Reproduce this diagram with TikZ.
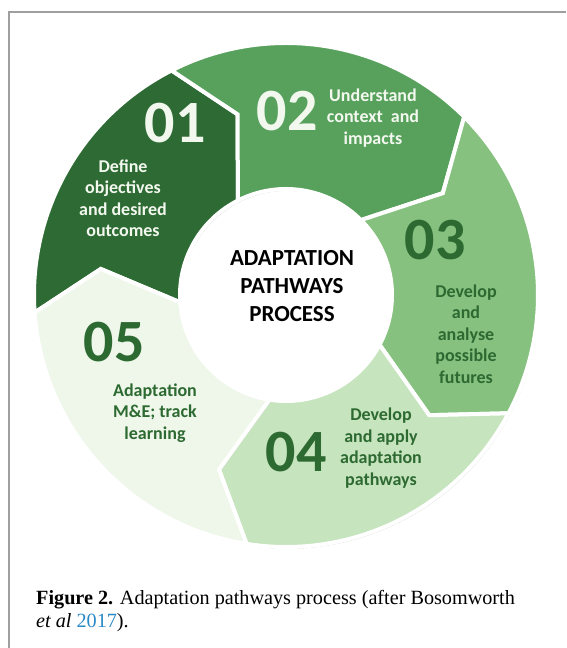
\documentclass[tikz,border=0pt]{standalone}
\usepackage{fontspec}
\setmainfont{Liberation Serif}
\newfontfamily\calfont{Carlito}
\usetikzlibrary{shadows}
\definecolor{stepone}{HTML}{2E6B34}
\definecolor{steptwo}{HTML}{58A15D}
\definecolor{stepthree}{HTML}{87C180}
\definecolor{stepfour}{HTML}{C6E4BE}
\definecolor{stepfive}{HTML}{EEF7EA}
\definecolor{darktext}{HTML}{2D6A31}
\definecolor{lighttext}{HTML}{F3F8EF}
\definecolor{linkblue}{HTML}{2B8AC6}

\begin{document}
\begin{tikzpicture}[x=1pt,y=1pt,
  numlabel/.style={inner sep=0pt,font=\calfont\bfseries\fontsize{60}{60}\selectfont},
  steptext/.style={inner sep=0pt,align=center,
    font=\calfont\bfseries\fontsize{18}{21.5}\selectfont},
  ringpart/.style={draw=white,line width=4pt,line join=miter,
    drop shadow={shadow xshift=1.2pt,shadow yshift=-1.8pt,opacity=0.4}}]
  % Configurable parameters
  \def\outr{252}
  \def\inr{106}
  \def\midr{187}
  \def\tipoff{12}
  %
  \useasboundingbox (0,0) rectangle (566,648);
  %
  % Frame
  \draw[gray!75,line width=1.2pt] (9,0) -- (9,636) -- (566,636);
  %
  % Ring of arrows
  \begin{scope}[shift={(286,353)}]
    \foreach \a/\b/\col in {184/117/stepone,117/45/steptwo,45/-28/stepthree,
                            -28/-99/stepfour,-99/-176/stepfive}
      \draw[ringpart,fill=\col] (\a:\outr) arc[start angle=\a,end angle=\b,radius=\outr]
        -- ({\b-\tipoff}:\midr) -- (\b:\inr)
        arc[start angle=\b,end angle=\a,radius=\inr]
        -- ({\a-\tipoff}:\midr) -- cycle;
  \end{scope}
  %
  % Step labels
  \node[numlabel,lighttext] (num01) at (175,525) {01};
  \node[steptext,lighttext] (txt01) at (123,450) {Define\\objectives\\and desired\\outcomes};
  \node[numlabel,lighttext] (num02) at (287,537) {02};
  \node[steptext,lighttext] (txt02) at (373,530) {Understand\\context~ and\\impacts};
  \node[numlabel,darktext] (num03) at (435,408) {03};
  \node[steptext,darktext] (txt03) at (466,314) {Develop\\and\\analyse\\possible\\futures};
  \node[numlabel,darktext] (num04) at (296,196) {04};
  \node[steptext,darktext] (txt04) at (381,200) {Develop\\and apply\\adaptation\\pathways};
  \node[numlabel,darktext] (num05) at (114,306) {05};
  \node[steptext,darktext] (txt05) at (155,235) {Adaptation\\M\&E; track\\learning};
  %
  % Centre title
  \node[inner sep=0pt,align=center,font=\calfont\bfseries\fontsize{23}{28}\selectfont]
    (title) at (292,362) {ADAPTATION\\PATHWAYS\\PROCESS};
  %
  % Caption
  \node[anchor=base west,inner sep=0pt,font=\fontsize{20.2}{23}\selectfont]
    (cap1) at (36,43) {\textbf{Figure 2.} Adaptation pathways process (after Bosomworth};
  \node[anchor=base west,inner sep=0pt,font=\fontsize{20.2}{23}\selectfont]
    (cap2) at (36,20) {\textit{et al} \textcolor{linkblue}{2017}).};
  %
\end{tikzpicture}
\end{document}
